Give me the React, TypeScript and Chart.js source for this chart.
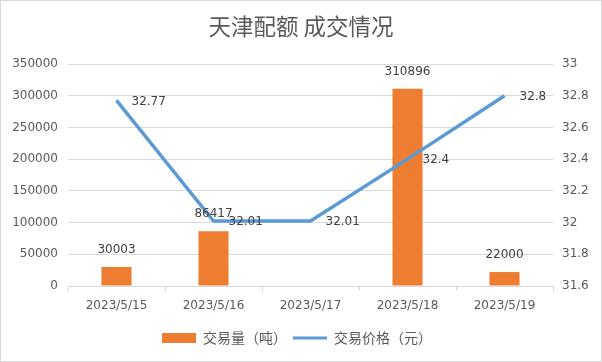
import React, { useEffect, useRef } from "react";
import { Chart, registerables } from "chart.js";

Chart.register(...registerables);

const titleText = "天津配额 成交情况";
const categories = ["2023/5/15", "2023/5/16", "2023/5/17", "2023/5/18", "2023/5/19"];
const volumeLabel = "交易量（吨）";
const priceLabel = "交易价格（元）";
const volumes: (number | null)[] = [30003, 86417, null, 310896, 22000];
const prices: number[] = [32.77, 32.01, 32.01, 32.4, 32.8];
const volumeAxis = { min: 0, max: 350000, step: 50000 };
const priceAxis = { min: 31.6, max: 33, step: 0.2 };

const ORANGE = "#ED7D31";
const BLUE = "#5B9BD5";
const GRID = "#D9D9D9";
const TEXT = "#595959";
const LABEL = "#404040";
const NUM_FONT = "'DejaVu Sans', sans-serif";
const CJK_FONT = "'Noto Sans CJK SC', sans-serif";

const dataLabelPlugin = {
  id: "dataLabels",
  afterDatasetsDraw(chart: any) {
    const ctx = chart.ctx;
    ctx.save();
    ctx.font = `12px ${NUM_FONT}`;
    ctx.fillStyle = LABEL;
    ctx.textBaseline = "middle";
    chart.data.datasets.forEach((ds: any, di: number) => {
      const meta = chart.getDatasetMeta(di);
      meta.data.forEach((el: any, i: number) => {
        const v = ds.data[i];
        if (v === null || v === undefined) return;
        if (ds.type === "bar") {
          ctx.textAlign = "center";
          ctx.fillText(String(v), el.x, el.y - 17);
        } else {
          ctx.textAlign = "left";
          ctx.fillText(String(v), el.x + 15, el.y + 1);
        }
      });
    });
    ctx.restore();
  },
};

const borderPlugin = {
  id: "outerBorder",
  afterLayout(chart: any) {
    const lg = chart.legend;
    if (lg) {
      lg.left -= 4;
      lg.right -= 4;
    }
  },
  afterDraw(chart: any) {
    const ctx = chart.ctx;
    ctx.save();
    ctx.strokeStyle = GRID;
    ctx.lineWidth = 1;
    ctx.strokeRect(0.5, 0.5, chart.width - 1, chart.height - 1);
    ctx.restore();
  },
};

export default function App() {
  const ref = useRef<HTMLCanvasElement | null>(null);

  useEffect(() => {
    document.body.style.margin = "0";
    if (!ref.current) return;
    const chart = new Chart(ref.current, {
      type: "bar",
      data: {
        labels: categories,
        datasets: [
          {
            type: "bar",
            label: volumeLabel,
            data: volumes as any,
            backgroundColor: ORANGE,
            borderWidth: 0,
            barPercentage: 0.31,
            categoryPercentage: 1,
            yAxisID: "y",
            order: 1,
          } as any,
          {
            type: "line",
            label: priceLabel,
            data: prices,
            borderColor: BLUE,
            backgroundColor: BLUE,
            borderWidth: 3.5,
            pointRadius: 0,
            tension: 0,
            fill: false,
            yAxisID: "y1",
            order: 0,
          } as any,
        ],
      },
      options: {
        responsive: false,
        animation: false,
        devicePixelRatio: 1,
        layout: { padding: { top: 0, left: 0, right: 0, bottom: 7 } },
        scales: {
          x: {
            grid: {
              display: true,
              offset: true,
              drawOnChartArea: false,
              color: GRID,
              tickLength: 5,
            },
            border: { display: true, color: GRID },
            ticks: { color: TEXT, font: { family: NUM_FONT, size: 12 }, padding: 8 },
            afterFit(scale: any) {
              scale.height = 39;
            },
          },
          y: {
            position: "left",
            min: volumeAxis.min,
            max: volumeAxis.max,
            grid: { color: GRID, drawTicks: false },
            border: { display: false },
            ticks: {
              stepSize: volumeAxis.step,
              color: TEXT,
              font: { family: NUM_FONT, size: 12 },
              padding: 10,
              callback: (v: any) => String(v),
            },
            afterFit(scale: any) {
              scale.width = 68;
            },
          },
          y1: {
            position: "right",
            min: priceAxis.min,
            max: priceAxis.max,
            grid: { display: false, drawOnChartArea: false, drawTicks: false },
            border: { display: false },
            ticks: {
              stepSize: priceAxis.step,
              color: TEXT,
              font: { family: NUM_FONT, size: 12 },
              padding: 9,
              callback: (v: any) => String(Number(Number(v).toFixed(1))),
            },
            afterFit(scale: any) {
              scale.width = 49;
            },
          },
        },
        plugins: {
          title: {
            display: true,
            text: titleText,
            color: TEXT,
            font: { family: CJK_FONT, size: 22.5, weight: "normal", lineHeight: 1.2 },
            padding: { top: 12.5, bottom: 24.5 },
          },
          legend: {
            display: true,
            position: "bottom",
            labels: {
              usePointStyle: true,
              pointStyleWidth: 34,
              boxHeight: 10,
              padding: 6,
              color: TEXT,
              font: { family: CJK_FONT, size: 14 },
              generateLabels: () => [
                {
                  text: volumeLabel,
                  fillStyle: ORANGE,
                  strokeStyle: ORANGE,
                  lineWidth: 0,
                  pointStyle: "rect",
                  datasetIndex: 0,
                  hidden: false,
                  fontColor: TEXT,
                } as any,
                {
                  text: priceLabel,
                  fillStyle: BLUE,
                  strokeStyle: BLUE,
                  lineWidth: 3,
                  pointStyle: "line",
                  datasetIndex: 1,
                  hidden: false,
                  fontColor: TEXT,
                } as any,
              ],
            },
          },
          tooltip: { enabled: false },
        },
      },
      plugins: [dataLabelPlugin, borderPlugin],
    });
    return () => chart.destroy();
  }, []);

  return (
    <div style={{ width: 602, height: 362 }}>
      <canvas ref={ref} width={602} height={362} style={{ display: "block" }} />
    </div>
  );
}
